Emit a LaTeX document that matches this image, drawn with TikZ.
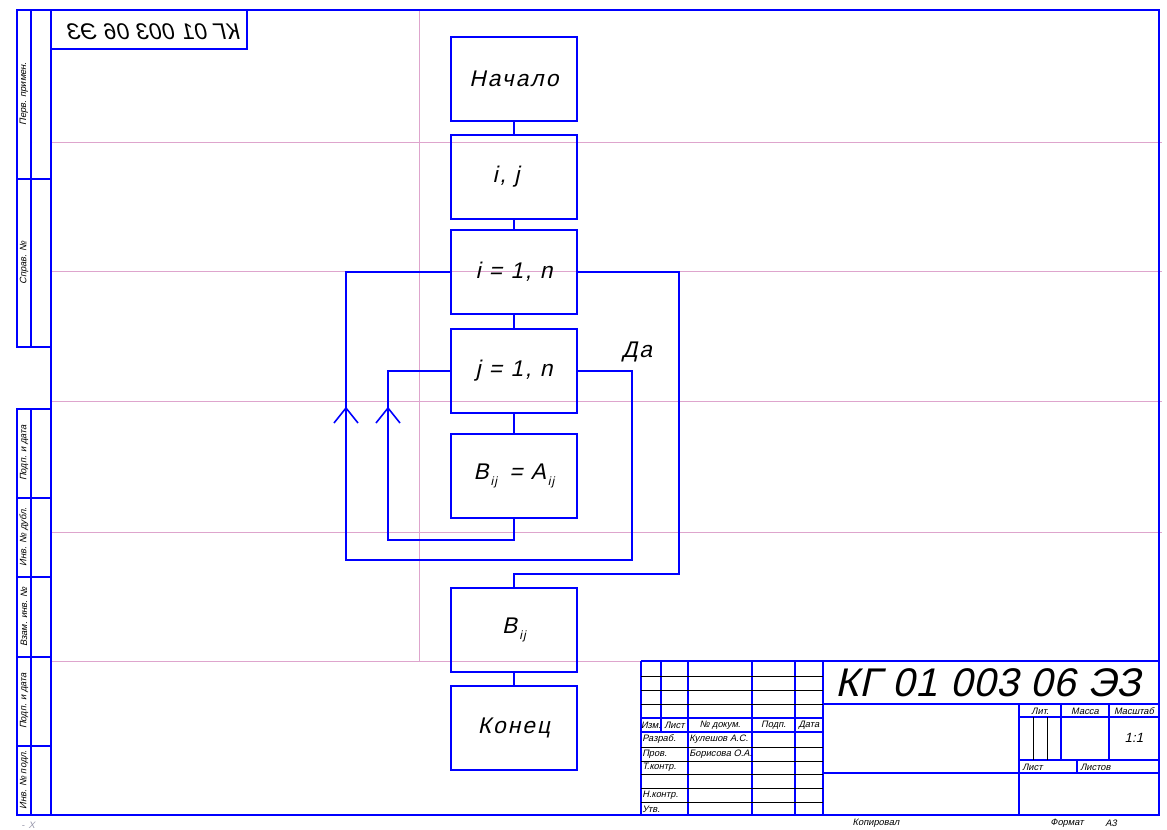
\documentclass[tikz,border=0pt]{standalone}
\usepackage{fontspec}
\usepackage{graphicx}
\setmainfont{Liberation Sans}[FakeSlant=0.22]
\newfontfamily\blockfont{Liberation Sans}[FakeSlant=0.22, LetterSpace=9]
\newfontfamily\codefont{Liberation Sans}[FakeSlant=0.22, LetterSpace=2]
\definecolor{gridpink}{RGB}{222,165,205}
\definecolor{markgray}{RGB}{150,150,170}
\tikzset{
  frame/.style={blue, line width=1.5pt},
  thin/.style={black, line width=0.6pt},
  gridline/.style={gridpink, line width=0.75pt},
  block/.style={draw=blue, line width=1.5pt, minimum width=94.5pt, minimum height=63pt,
    font=\blockfont\fontsize{17}{20}\selectfont},
  flow/.style={blue, line width=1.5pt},
  small/.style={font=\fontsize{7}{8}\selectfont, inner sep=0pt},
  sidetext/.style={small, rotate=90}
}
\newcommand{\sub}[1]{\kern1.5pt\raisebox{-0.5ex}{\fontsize{9}{10}\selectfont #1}}
\begin{document}
\begin{tikzpicture}[x=0.75pt, y=-0.75pt]
  \useasboundingbox (0,0) rectangle (1167,829);

  % sheet grid
  \foreach \y in {142,271,401,532}
    \draw[gridline] (51,\y) -- (1162,\y);
  \draw[gridline] (51,661) -- (641,661);
  \draw[gridline] (419,10) -- (419,661);

  % frame and side strips
  \draw[frame] (51,10) rectangle (1159,815);
  \draw[frame] (17,10) rectangle (51,347);
  \draw[frame] (31,10) -- (31,347);
  \draw[frame] (17,179) -- (51,179);
  \draw[frame] (17,409) rectangle (51,815);
  \draw[frame] (31,409) -- (31,815);
  \foreach \y in {498,577,657,746}
    \draw[frame] (17,\y) -- (51,\y);
  \draw[frame] (51,49) -- (247,49) -- (247,10);

  \node[sidetext] (s1) at (24,94) {Перв. примен.};
  \node[sidetext] (s2) at (24,263) {Справ. №};
  \node[sidetext] (s3) at (24,453) {Подп. и дата};
  \node[sidetext] (s4) at (24,537) {Инв. № дубл.};
  \node[sidetext] (s5) at (24,617) {Взам. инв. №};
  \node[sidetext] (s6) at (24,701) {Подп. и дата};
  \node[sidetext] (s7) at (24,780) {Инв. № подл.};
  \node[small, markgray] (mark) at (28,825) {-\, X};

  \node[font=\codefont\fontsize{17}{20}\selectfont] (codemirror) at (155,32) {\reflectbox{КГ 01 003 06 ЭЗ}};

  % flowchart
  \node[block] (start) at (514,79) {Начало};
  \node[block] (input) at (514,176.5) {\hspace*{-12pt}i, j};
  \node[block] (loopi) at (514,272) {i = 1, n};
  \node[block] (loopj) at (514,371) {j = 1, n};
  \node[block] (assign) at (514,476) {B\sub{ij}\, = A\sub{ij}};
  \node[block] (output) at (514,629.5) {B\sub{ij}};
  \node[block] (finish) at (514,727.5) {Конец};
  \node[font=\blockfont\fontsize{17}{20}\selectfont] (yes) at (637,352) {Да};

  \coordinate (jback) at (388,540);
  \coordinate (jexit) at (632,560);
  \coordinate (iback) at (346,560);
  \coordinate (iexit) at (679,574);

  \draw[flow] (start) -- (input);
  \draw[flow] (input) -- (loopi);
  \draw[flow] (loopi) -- (loopj);
  \draw[flow] (loopj) -- (assign);
  \draw[flow] (assign.south) |- (jback) |- (loopj.west);
  \draw[flow] (loopj.east) -| (jexit) -- (iback) |- (loopi.west);
  \draw[flow] (loopi.east) -| (iexit) -| (output.north);
  \draw[flow] (output) -- (finish);
  \foreach \x in {346,388}
    \draw[flow, line width=1.2pt] (\x-12,423) -- (\x,408) -- (\x+12,423);

  % title block
  \draw[frame] (641,661) -- (1159,661);
  \foreach \x in {641,688,752,795,823}
    \draw[frame] (\x,661) -- (\x,815);
  \draw[frame] (661,661) -- (661,732);
  \draw[frame] (641,718) -- (823,718);
  \draw[frame] (641,732) -- (823,732);
  \foreach \y in {676,690,704,747,761,774,788,802}
    \draw[thin] (641,\y) -- (823,\y);
  \draw[frame] (823,704) -- (1159,704);
  \draw[frame] (823,773) -- (1159,773);
  \draw[frame] (1019,704) -- (1019,815);
  \draw[frame] (1019,717) -- (1159,717);
  \draw[frame] (1061,704) -- (1061,760);
  \draw[frame] (1109,704) -- (1109,760);
  \draw[frame] (1019,760) -- (1159,760);
  \draw[frame] (1077,760) -- (1077,773);
  \draw[thin] (1033,717) -- (1033,760);
  \draw[thin] (1047,717) -- (1047,760);

  \node[font=\codefont\fontsize{30}{32}\selectfont] (code) at (988,683) {КГ 01 003 06 ЭЗ};

  \node[small] (h1) at (651,725) {Изм.};
  \node[small] (h2) at (674.5,725) {Лист};
  \node[small] (h3) at (720,725) {№ докум.};
  \node[small] (h4) at (773.5,725) {Подп.};
  \node[small] (h5) at (809,725) {Дата};
  \node[small, anchor=west] (r1) at (642,739.5) {Разраб.};
  \node[small, anchor=west] (r2) at (642,754) {Пров.};
  \node[small, anchor=west] (r3) at (642,767.5) {Т.контр.};
  \node[small, anchor=west] (r4) at (642,795) {Н.контр.};
  \node[small, anchor=west] (r5) at (642,809) {Утв.};
  \node[small, anchor=west] (n1) at (689,739.5) {Кулешов А.С.};
  \node[small, anchor=west] (n2) at (689,754) {Борисова О.А.};

  \node[small] (lit) at (1040,711) {Лит.};
  \node[small] (mass) at (1085,711) {Масса};
  \node[small] (scl) at (1134,711) {Масштаб};
  \node[font=\fontsize{10}{12}\selectfont] (sclval) at (1134,738) {1:1};
  \node[small, anchor=west] (sheet) at (1022,767) {Лист};
  \node[small, anchor=west] (sheets) at (1080,767) {Листов};

  \node[small] (copied) at (876,823) {Копировал};
  \node[small] (format) at (1067,823) {Формат};
  \node[small] (formatval) at (1111,823) {А3};
\end{tikzpicture}
\end{document}
